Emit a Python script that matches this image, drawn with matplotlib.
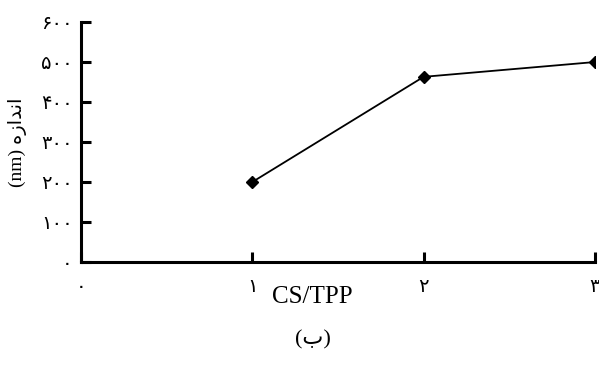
import matplotlib
matplotlib.use('Agg')
import matplotlib.pyplot as plt

# CS/TPP ratio vs particle size
ratio = [1, 2, 3]
size_nm = [200, 463, 500]

x_ticks = [0, 1, 2, 3]
x_labels = ['۰', '۱', '۲', '۳']
y_ticks = [0, 100, 200, 300, 400, 500, 600]
y_labels = ['۰', '۱۰۰', '۲۰۰', '۳۰۰', '۴۰۰', '۵۰۰', '۶۰۰']

# "اندازه" written out in presentation forms, left-to-right visual order
ylabel_text = '(nm) ' + 'ﻩﺯﺍﺪﻧﺍ'
caption_text = '(ب)'

fonts = ['Liberation Serif', 'DejaVu Sans']
plt.rcParams['font.family'] = fonts

fig = plt.figure(figsize=(5.99, 3.80), dpi=100)
ax = fig.add_axes([0.1352, 0.3105, 0.858, 0.6315])

ax.plot(ratio, size_nm, color='black', linewidth=1.3,
        marker='D', markersize=6.5, markerfacecolor='black', markeredgecolor='black')

ax.set_xlim(0, 3)
ax.set_ylim(0, 600)
ax.set_xticks(x_ticks)
ax.set_xticklabels(x_labels, fontsize=14)
ax.set_yticks(y_ticks)
ax.set_yticklabels(y_labels, fontsize=14)

for side in ['top', 'right']:
    ax.spines[side].set_visible(False)
for side in ['left', 'bottom']:
    ax.spines[side].set_linewidth(2.2)
    ax.spines[side].set_capstyle('projecting')

ax.tick_params(axis='both', direction='in', length=7, width=2.2)
ax.tick_params(axis='x', pad=12)
ax.tick_params(axis='y', pad=6)

ax.set_ylabel(ylabel_text, fontsize=14, labelpad=10)

fig.text(0.522, 0.218, 'CS/TPP', fontsize=18, ha='center', va='center')
fig.text(0.522, 0.105, caption_text, fontsize=16, ha='center', va='center')

fig.savefig('out.png', dpi=100)
